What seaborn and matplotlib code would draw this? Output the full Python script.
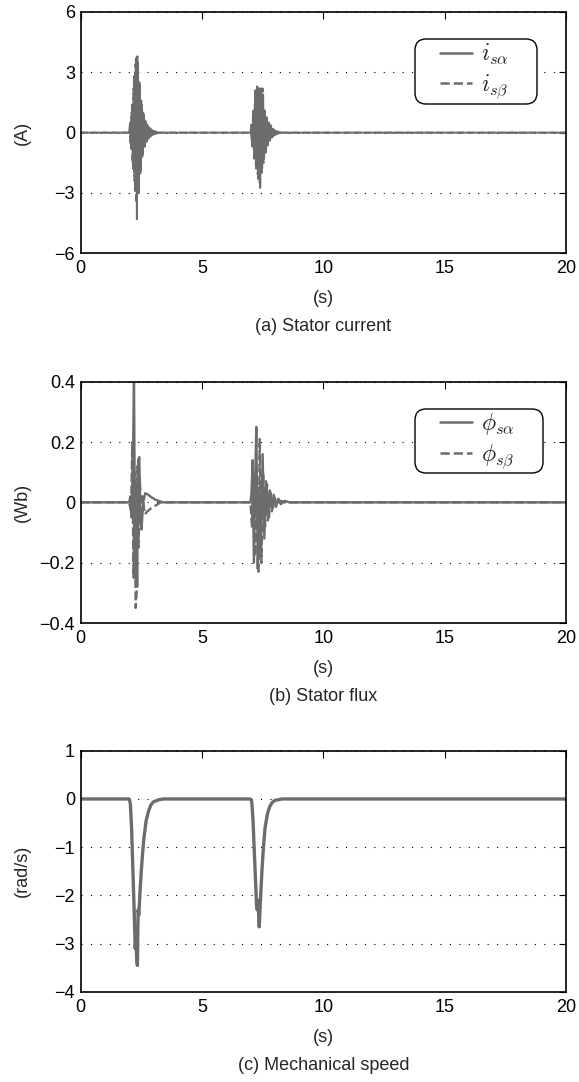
import numpy as np
import matplotlib
matplotlib.use("Agg")
import matplotlib.pyplot as plt
from matplotlib.patches import FancyBboxPatch
import seaborn as sns

# ---------------- data ----------------
# Stator current bursts (alternating oscillation peaks, A)
cur_a_b1 = [0.0, 0.5, -0.8, 1.4, -1.8, 2.8, -2.9, 3.7, -4.3, 3.5, -3.0, 2.4, -1.9, 1.4, -1.1, 0.9,
            -0.7, 0.55, -0.45, 0.35, -0.3, 0.25, -0.2, 0.15, -0.12, 0.1, -0.08, 0.06, -0.04, 0.03, -0.02, 0.0]
cur_b_b1 = [0.0, -0.6, 1.0, -1.5, 2.2, -2.4, 3.4, -3.5, 3.8, -2.6, 2.6, -2.1, 1.6, -1.3, 1.0, -0.8,
            0.6, -0.5, 0.4, -0.3, 0.25, -0.2, 0.17, -0.13, 0.1, -0.08, 0.06, -0.05, 0.04, -0.03, 0.02, 0.0]
cur_a_b2 = [0.0, 0.4, -0.7, 1.1, -1.3, 2.1, -1.8, 2.3, -2.3, 2.2, -2.75, 2.2, -1.8, 1.9, -1.3, 1.0, -0.9,
            0.75, -0.6, 0.5, -0.4, 0.35, -0.25, 0.2, -0.15, 0.12, -0.1, 0.08, -0.06, 0.04, -0.03, 0.02, 0.0]
cur_b_b2 = [0.0, -0.5, 0.8, -1.0, 1.6, -1.6, 2.25, -2.1, 2.3, -2.5, 2.1, -2.0, 2.2, -1.5, 1.2, -1.0, 0.8,
            -0.65, 0.55, -0.45, 0.38, -0.3, 0.22, -0.17, 0.13, -0.1, 0.08, -0.06, 0.05, -0.03, 0.02, -0.01, 0.0]
cur_a_t1 = np.linspace(2.00, 3.24, len(cur_a_b1))
cur_b_t1 = np.linspace(2.02, 3.26, len(cur_b_b1))
cur_a_t2 = np.linspace(7.00, 8.28, len(cur_a_b2))
cur_b_t2 = np.linspace(7.02, 8.30, len(cur_b_b2))

# Stator flux (Wb)
flux_a_t = [0, 2.00, 2.05, 2.10, 2.15, 2.20, 2.25, 2.29, 2.33, 2.37, 2.42, 2.46, 2.51, 2.58, 2.66, 2.74, 2.90, 3.10, 3.40,
            7.00, 7.04, 7.09, 7.14, 7.20, 7.24, 7.30, 7.36, 7.42, 7.50, 7.57, 7.64, 7.72, 7.80, 7.88,
            7.96, 8.05, 8.15, 8.25, 8.40, 8.60, 20]
flux_a_v = [0, 0, 0.02, -0.05, 0.10, 0.42, -0.25, 0.05, -0.28, 0.14, 0.15, -0.05, -0.09, 0.0, 0.03, 0.028, 0.018, 0.008, 0.0,
            0, 0.03, 0.14, -0.20, 0.10, 0.25, -0.22, 0.05, -0.18, 0.16, -0.12, 0.07, -0.06, 0.04, -0.03,
            0.025, -0.015, 0.012, -0.006, 0.005, 0.0, 0]
flux_b_t = [0, 2.00, 2.08, 2.13, 2.18, 2.22, 2.27, 2.31, 2.34, 2.39, 2.44, 2.50, 2.56, 2.64, 2.75, 2.90, 3.10, 3.30,
            7.00, 7.06, 7.11, 7.17, 7.23, 7.28, 7.33, 7.38, 7.45, 7.52, 7.60, 7.68, 7.76, 7.84,
            7.92, 8.00, 8.10, 8.25, 8.40, 20]
flux_b_v = [0, 0, -0.03, 0.20, -0.25, 0.10, -0.35, -0.30, 0.12, -0.15, 0.08, -0.05, 0.02, -0.04, -0.03, -0.02, -0.01, 0.0,
            0, -0.08, 0.10, -0.18, 0.05, -0.15, -0.23, 0.21, -0.20, 0.10, -0.08, 0.06, -0.05, 0.03,
            -0.02, 0.015, -0.01, 0.005, 0.0, 0]

# Mechanical speed (rad/s)
speed_t = [0, 2.00, 2.05, 2.10, 2.15, 2.20, 2.25, 2.28, 2.31, 2.34, 2.37, 2.40, 2.45, 2.50, 2.55, 2.60, 2.70, 2.80,
           2.90, 3.00, 3.20, 3.40,
           7.00, 7.05, 7.10, 7.15, 7.20, 7.25, 7.28, 7.31, 7.36, 7.40, 7.45, 7.50, 7.55, 7.60, 7.70, 7.80,
           7.90, 8.00, 8.20, 8.30, 20]
speed_v = [0, 0, -0.1, -0.6, -1.4, -2.2, -3.1, -2.9, -3.3, -3.45, -2.3, -2.4, -1.9, -1.5, -1.15, -0.85, -0.45, -0.25,
           -0.12, -0.06, -0.02, 0,
           0, -0.05, -0.4, -1.0, -1.6, -2.2, -2.3, -2.1, -2.65, -2.2, -1.7, -1.25, -0.9, -0.6, -0.3, -0.15,
           -0.07, -0.03, -0.01, 0, 0]

xticks = [0, 5, 10, 15, 20]
yticks_cur = [-6, -3, 0, 3, 6]
yticks_flux = [-0.4, -0.2, 0, 0.2, 0.4]
yticklabels_flux = ["\u22120.4", "\u22120.2", "0", "0.2", "0.4"]
yticks_speed = [-4, -3, -2, -1, 0, 1]

# ---------------- style ----------------
sns.set_style("white")
plt.rcParams["font.family"] = ["Liberation Sans", "DejaVu Sans"]
plt.rcParams["mathtext.fontset"] = "cm"
plt.rcParams["axes.unicode_minus"] = True

W, H = 579, 1082
fig = plt.figure(figsize=(W / 100, H / 100), dpi=100)

LC = "#6c6c6c"
FS = 13
AX_W_PX = 566 - 80.6
AX_H_PX = 241.3
ax_left = 80.6 / W
ax_w = AX_W_PX / W
ax_h = AX_H_PX / H
tops = [12, 381.7, 750.7]

axes = []
for tp in tops:
    bottom = 1 - (tp + AX_H_PX) / H
    axes.append(fig.add_axes([ax_left, bottom, ax_w, ax_h]))


def full(t1, v1, t2, v2):
    t = np.concatenate([[0.0], t1, t2, [20.0]])
    v = np.concatenate([[0.0], v1, v2, [0.0]])
    return t, v


def style_axis(ax, yticks, ylim, ylab, caption, yticklabels=None):
    ax.set_xlim(0, 20)
    ax.set_ylim(*ylim)
    ax.set_xticks(xticks)
    ax.set_yticks(yticks)
    if yticklabels is not None:
        ax.set_yticklabels(yticklabels)
    ax.tick_params(direction="in", length=5, width=0.8, top=True, right=True,
                   labelsize=FS, colors="black")
    ax.tick_params(axis="x", pad=5)
    ax.tick_params(axis="y", pad=4)
    for sp in ax.spines.values():
        sp.set_color("black")
        sp.set_linewidth(1.2)
    ax.yaxis.grid(True, color="black", linestyle=(0, (1, 7.5)), linewidth=0.8)
    ax.xaxis.grid(False)
    ax.set_axisbelow(True)
    ax.set_xlabel("")
    ax.set_ylabel(ylab, fontsize=FS)
    ax.yaxis.set_label_coords(-0.102, 0.5)
    ax.text(0.5, -0.1865, "(s)", transform=ax.transAxes, ha="center", va="center", fontsize=FS)
    ax.text(0.5, -0.3035, caption, transform=ax.transAxes, ha="center", va="center", fontsize=FS)


def legend_box(ax, x0_px, x1_px, top_px, bot_px, axes_top_px):
    # frame of the legend, rounded corners (pixel positions relative to figure)
    x0 = (x0_px - 80.6) / AX_W_PX
    x1 = (x1_px - 80.6) / AX_W_PX
    y1 = (axes_top_px + AX_H_PX - top_px) / AX_H_PX
    y0 = (axes_top_px + AX_H_PX - bot_px) / AX_H_PX
    r = 11 / AX_W_PX
    box = FancyBboxPatch((x0, y0), x1 - x0, y1 - y0,
                         boxstyle=f"round,pad=0,rounding_size={r}",
                         mutation_aspect=AX_W_PX / AX_H_PX,
                         transform=ax.transAxes, facecolor="white",
                         edgecolor="black", linewidth=1.0, zorder=4)
    ax.add_patch(box)
    hx = (440 - 80.6) / AX_W_PX
    yc = (y0 + y1) / 2
    leg = ax.legend(loc="center left", bbox_to_anchor=(hx, yc), borderaxespad=0,
                    borderpad=0, frameon=False, fontsize=17, handlelength=1.35,
                    handletextpad=0.38, labelspacing=0.25)
    for ln in leg.get_lines():
        ln.set_linewidth(1.8)
    leg.set_zorder(5)


# Panel (a) stator current
ax = axes[0]
ta, va = full(cur_a_t1, cur_a_b1, cur_a_t2, cur_a_b2)
tb, vb = full(cur_b_t1, cur_b_b1, cur_b_t2, cur_b_b2)
sns.lineplot(x=ta, y=va, ax=ax, estimator=None, sort=False, color=LC, linewidth=1.4,
             label=r"$i_{s\alpha}$")
sns.lineplot(x=tb, y=vb, ax=ax, estimator=None, sort=False, color=LC, linewidth=1.4,
             linestyle="--", label=r"$i_{s\beta}$")
style_axis(ax, yticks_cur, (-6, 6), "(A)", "(a) Stator current")
legend_box(ax, 415, 537, 39, 104, tops[0])

# Panel (b) stator flux
ax = axes[1]
sns.lineplot(x=flux_a_t, y=flux_a_v, ax=ax, estimator=None, sort=False, color=LC, linewidth=1.7,
             label=r"$\phi_{s\alpha}$")
sns.lineplot(x=flux_b_t, y=flux_b_v, ax=ax, estimator=None, sort=False, color=LC, linewidth=1.7,
             linestyle="--", label=r"$\phi_{s\beta}$")
style_axis(ax, yticks_flux, (-0.4, 0.4), "(Wb)", "(b) Stator flux", yticklabels_flux)
legend_box(ax, 415, 543, 409, 473, tops[1])

# Panel (c) mechanical speed
ax = axes[2]
sns.lineplot(x=speed_t, y=speed_v, ax=ax, estimator=None, sort=False, color=LC, linewidth=2.4)
style_axis(ax, yticks_speed, (-4, 1), "(rad/s)", "(c) Mechanical speed")

fig.savefig("out.png", dpi=100)
